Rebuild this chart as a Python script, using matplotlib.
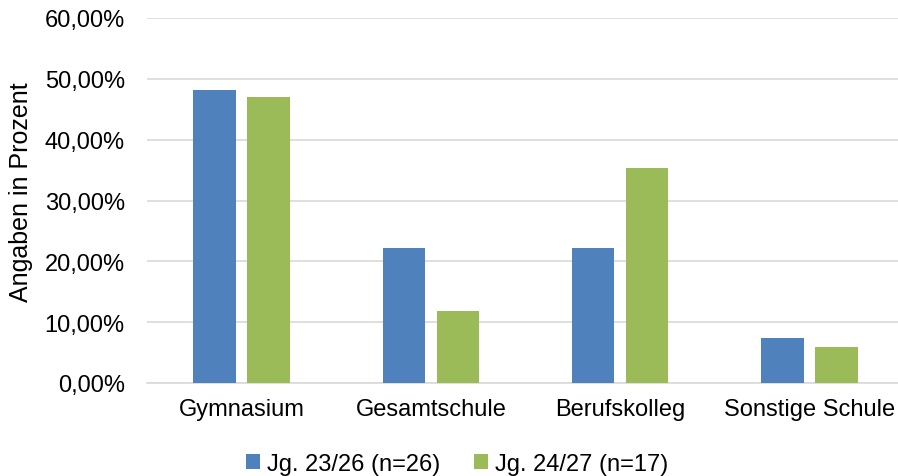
import matplotlib
matplotlib.use("Agg")
import matplotlib.pyplot as plt
import numpy as np
from matplotlib.ticker import FuncFormatter

categories = ["Gymnasium", "Gesamtschule", "Berufskolleg", "Sonstige Schule"]
series_names = ["Jg. 23/26 (n=26)", "Jg. 24/27 (n=17)"]
values_a = [48.15, 22.22, 22.22, 7.41]
values_b = [47.06, 11.76, 35.29, 5.88]
y_ticks = [0, 10, 20, 30, 40, 50, 60]
y_label = "Angaben in Prozent"

colors = ["#4F81BD", "#9BBB59"]

plt.rcParams['font.family'] = ['Liberation Sans', 'DejaVu Sans']
fs = 17

fig = plt.figure(figsize=(8.98, 4.77), dpi=100)
ax_left, ax_right = 147, 904
ax = fig.add_axes([ax_left/898, 93/477, (ax_right-ax_left)/898, (384-19)/477])

x = np.arange(len(categories))
w = 0.224
off = 0.1427
ax.bar(x - off, values_a, width=w, color=colors[0], label=series_names[0], zorder=3)
ax.bar(x + off, values_b, width=w, color=colors[1], label=series_names[1], zorder=3)

ax.set_xlim(-0.5, len(categories) - 0.5)
ax.set_ylim(0, 60)
ax.set_yticks(y_ticks)
ax.yaxis.set_major_formatter(FuncFormatter(lambda v, p: f"{v:.2f}".replace(".", ",") + "%"))
ax.set_xticks(x)
ax.set_xticklabels(categories)

ax.grid(axis='y', color='#D9D9D9', linewidth=1.2, zorder=0)
for s in ['top', 'right', 'left']:
    ax.spines[s].set_visible(False)
ax.spines['bottom'].set_color('#D9D9D9')
ax.spines['bottom'].set_linewidth(1.2)
ax.tick_params(axis='both', length=0, labelsize=fs, colors='black')
ax.tick_params(axis='y', pad=16)
ax.tick_params(axis='x', pad=11)
ax.set_ylabel(y_label, fontsize=18)
ax.yaxis.set_label_coords((33 - ax_left) / (ax_right - ax_left), 0.525)

leg = fig.legend(loc='center', bbox_to_anchor=(457/898, 1 - 465/477), ncol=2,
                 frameon=False, fontsize=fs, handlelength=0.6, handleheight=0.6,
                 handletextpad=0.3, columnspacing=1.4)

fig.savefig("out.png", dpi=100)
